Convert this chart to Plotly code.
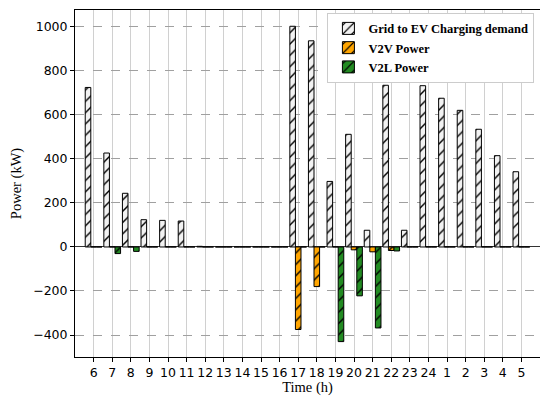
import plotly.graph_objects as go

hours = ["6", "7", "8", "9", "10", "11", "12", "13", "14", "15", "16", "17",
         "18", "19", "20", "21", "22", "23", "24", "1", "2", "3", "4", "5"]
grid_ev = [725, 427, 244, 124, 121, 118, 3, 0, 0, 0, 0, 1003,
           937, 298, 512, 76, 735, 76, 733, 676, 621, 535, 415, 342]
v2v = [0, 0, 0, 0, 0, 0, 0, 0, 0, 0, 0, -375,
       -180, 0, -13, -22, -16, 0, 0, 0, 0, 0, 0, 0]
v2l = [0, -30, -20, 0, 0, 0, 0, 0, 0, 0, 0, 0,
       0, -430, -222, -368, -18, 0, 0, 0, 0, 0, 0, 0]

idx = list(range(len(hours)))
W = 0.3
series = [
    ("Grid to EV Charging demand", grid_ev, "#f2f2f2", -1.5 * W),
    ("V2V Power", v2v, "#ffa500", -0.5 * W),
    ("V2L Power", v2l, "#228b22", 0.5 * W),
]

fig = go.Figure()
for name, vals, col, off in series:
    fig.add_trace(go.Bar(
        x=idx, y=vals, name=name, width=W, offset=off,
        marker=dict(color=col, line=dict(color="black", width=1),
                    pattern=dict(shape="/", fgcolor="black", bgcolor=col,
                                 size=8, solidity=0.18, fillmode="replace")),
    ))

fig.update_layout(
    width=540, height=396,
    margin=dict(l=75, r=0, t=10, b=39),
    paper_bgcolor="white", plot_bgcolor="white",
    barmode="overlay",
    showlegend=True,
    legend=dict(x=0.988, y=0.992, xanchor="right", yanchor="top",
                bgcolor="white", bordercolor="#cccccc", borderwidth=1,
                font=dict(family="Liberation Serif", size=12.5, color="black", weight="bold"),
                itemwidth=30, tracegroupgap=0),
    font=dict(family="DejaVu Sans", size=12.5, color="black"),
)
fig.update_xaxes(
    range=[-1, 24], tickmode="array", tickvals=idx, ticktext=hours,
    showgrid=True, gridcolor="#d0d0d0", gridwidth=1,
    showline=True, linecolor="black", linewidth=1, mirror=True,
    ticks="outside", ticklen=4, tickcolor="black",
    title=dict(text="Time (h)", font=dict(family="Liberation Serif", size=14.5), standoff=2),
    zeroline=False,
)
fig.update_yaxes(
    range=[-500, 1077], tickvals=[-400, -200, 0, 200, 400, 600, 800, 1000],
    ticktext=["\u2212400", "\u2212200", "0", "200", "400", "600", "800", "1000"],
    showgrid=True, gridcolor="#a0a0a0", gridwidth=1, griddash="dash",
    showline=True, linecolor="black", linewidth=1, mirror=False,
    ticks="outside", ticklen=4, tickcolor="black",
    zeroline=True, zerolinecolor="#333333", zerolinewidth=1,
    title=dict(text="Power (kW)", font=dict(family="Liberation Serif", size=14.5), standoff=8),
)

fig.write_html("out.html")
